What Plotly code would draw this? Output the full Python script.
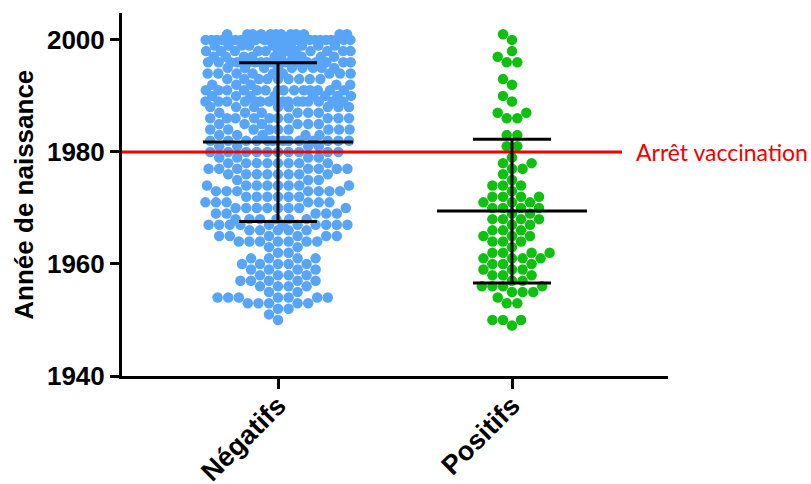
import numpy as np
import plotly.graph_objects as go

# Birth-year distribution per group: year and number of people born that year
GROUPS = ["Négatifs", "Positifs"]

NEG_YEARS = list(range(2001, 1949, -1))
NEG_COUNTS = [12, 24, 10, 12, 10, 18, 9, 9, 9, 5, 14, 8, 16, 8, 6, 10, 6, 9, 5, 14,
              4, 10, 4, 8, 7, 8, 3, 8, 7, 6, 6, 8, 5, 6, 11, 5, 6, 7, 2, 2,
              4, 5, 4, 4, 5, 4, 2, 7, 5, 2, 1, 1]

POS_YEARS = [2001, 2000, 1998, 1997, 1996, 1993, 1992, 1990, 1989, 1987, 1986, 1983,
             1981, 1979, 1978, 1977, 1976, 1975, 1974, 1973, 1972, 1971, 1970, 1969,
             1968, 1967, 1966, 1965, 1964, 1963, 1962, 1961, 1960, 1959, 1958, 1957,
             1956, 1955, 1954, 1953, 1950, 1949]
POS_COUNTS = [1, 1, 1, 1, 2, 1, 1, 1, 1, 2, 2, 2, 2, 1, 2, 2, 1, 1, 3, 1, 4, 3, 4, 2,
              4, 2, 3, 3, 3, 1, 4, 4, 3, 3, 3, 2, 4, 3, 1, 2, 3, 1]

VACC_STOP_YEAR = 1980
VACC_LABEL = "Arrêt vaccination"
Y_TICKS = [1940, 1960, 1980, 2000]

# Figure geometry (pixels) used by the swarm layout
W, H = 811, 484
M_L, M_R, M_T, M_B = 122, 143, 13, 108
X_RANGE = [1 - 156 / 234, 2 + 156 / 234]
Y_RANGE = [1940, 2004.8]
PX_PER_X = (W - M_L - M_R) / (X_RANGE[1] - X_RANGE[0])
PX_PER_Y = (H - M_T - M_B) / (Y_RANGE[1] - Y_RANGE[0])
DOT = 10.6          # dot spacing in px
HALF_WIDTH = 73     # max half width of a swarm column in px


def swarm_offsets(values, d=DOT, hw=HALF_WIDTH):
    """Deterministic beeswarm: horizontal pixel offsets for each value."""
    values = np.asarray(values, dtype=float)
    px_x, px_y = [], []
    out = np.zeros(len(values))

    def free(x, y, dd):
        for xi, yi in zip(px_x, px_y):
            dy = abs(y - yi)
            if dy < dd:
                h = np.sqrt(dd * dd - dy * dy)
                if abs(x - xi) < h - 1e-6:
                    return False
        return True

    for v in sorted(set(values)):
        idx = np.where(values == v)[0]
        n = len(idx)
        y = v * PX_PER_Y
        xs = (np.arange(n) - (n - 1) / 2) * d
        if (n - 1) * d <= 2 * hw and all(free(x, y, d) for x in xs):
            for i, x in zip(idx, xs):
                px_x.append(x); px_y.append(y); out[i] = x
            continue
        last_sign = 1
        for i in idx:
            chosen = None
            for s in (1.0, 0.9, 0.8, 0.7, 0.6, 0.5, 0.4, 0.3, 0.2):
                dd = d * s
                cands = {0.0}
                for xi, yi in zip(px_x, px_y):
                    dy = abs(y - yi)
                    if dy < dd:
                        h = np.sqrt(dd * dd - dy * dy)
                        cands.add(xi - h); cands.add(xi + h)
                ok = [c for c in cands if abs(c) <= hw and free(c, y, dd)]
                if ok:
                    chosen = min(ok, key=lambda c: (round(abs(c), 3), 0 if np.sign(c) == -last_sign else 1))
                    break
            if chosen is None:
                chosen = 0.0
            if chosen != 0:
                last_sign = np.sign(chosen)
            px_x.append(chosen); px_y.append(y); out[i] = chosen
    return out / PX_PER_X


neg = np.repeat(NEG_YEARS, NEG_COUNTS).astype(float)
pos = np.repeat(POS_YEARS, POS_COUNTS).astype(float)

fig = go.Figure()

series = [(neg, 1, "#58A5F7"), (pos, 2, "#10C010")]
for vals, xc, col in series:
    fig.add_trace(go.Scatter(
        x=xc + swarm_offsets(vals), y=vals, mode="markers",
        marker=dict(size=10.5, color=col, line=dict(width=0)),
        hoverinfo="y", showlegend=False))

# Vaccination stop line
x_line_end = 2 + 110 / 234
fig.add_trace(go.Scatter(
    x=[X_RANGE[0], x_line_end], y=[VACC_STOP_YEAR] * 2, mode="lines",
    line=dict(color="#F00000", width=3), hoverinfo="skip", showlegend=False))
fig.add_annotation(x=2 + 122 / 234, y=VACC_STOP_YEAR, xref="x", yref="y",
                   text=VACC_LABEL, showarrow=False, xanchor="left", yanchor="middle",
                   font=dict(family="Lato", size=23, color="#F00000"))

# Mean and standard deviation for each group
for vals, xc, _ in series:
    m = vals.mean()
    sd = vals.std(ddof=1)
    fig.add_trace(go.Scatter(
        x=[xc], y=[m], mode="markers", marker=dict(size=1, color="black", opacity=0),
        error_y=dict(type="constant", value=sd, color="black", thickness=3, width=39),
        hoverinfo="skip", showlegend=False))
    fig.add_trace(go.Scatter(
        x=[xc - 75 / PX_PER_X, xc + 75 / PX_PER_X], y=[m, m], mode="lines",
        line=dict(color="black", width=3), hoverinfo="skip", showlegend=False))

fig.add_annotation(x=-0.181, y=0.5, xref="paper", yref="paper", text="Année de naissance",
                   textangle=-90, showarrow=False, xanchor="center", yanchor="middle",
                   font=dict(family="Liberation Sans", size=26, color="black", weight="bold"))

fig.update_layout(
    width=W, height=H,
    margin=dict(l=M_L, r=M_R, t=M_T, b=M_B),
    paper_bgcolor="white", plot_bgcolor="white",
    xaxis=dict(range=X_RANGE, tickvals=[1, 2], ticktext=GROUPS, tickangle=-45,
               showline=True, linecolor="black", linewidth=3, ticks="outside",
               ticklen=10, tickwidth=3, tickcolor="black", showgrid=False,
               zeroline=False, automargin=False, ticklabelstandoff=-10,
               tickfont=dict(family="Liberation Sans", size=27, color="black", weight="bold")),
    yaxis=dict(range=Y_RANGE, tickvals=Y_TICKS, showline=True, linecolor="black",
               linewidth=3, ticks="outside", ticklen=9, tickwidth=3, tickcolor="black",
               showgrid=False, zeroline=False, automargin=False,
               tickfont=dict(family="Liberation Sans", size=26, color="black", weight="bold")),
)

fig.write_html("out.html")
